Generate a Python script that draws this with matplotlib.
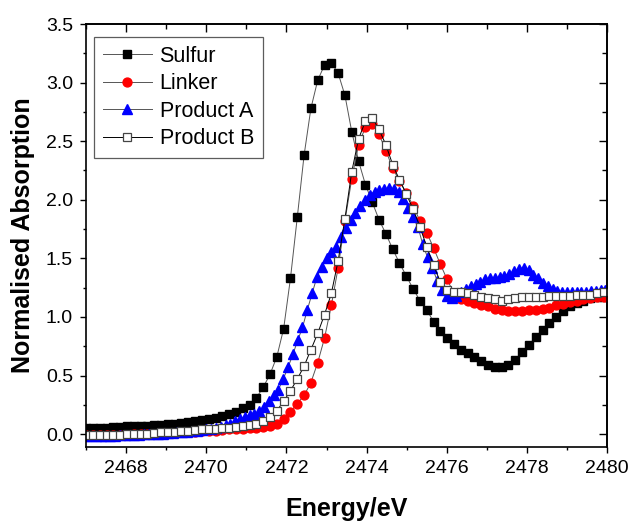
import matplotlib.pyplot as plt
from matplotlib.ticker import MultipleLocator

plt.rcParams['font.family'] = ['Liberation Sans', 'DejaVu Sans']

# energy grid shared by Sulfur, Linker and Product B (eV)
energy = [2467.00, 2467.17, 2467.34, 2467.51, 2467.68, 2467.85, 2468.02, 2468.19,
          2468.36, 2468.53, 2468.70, 2468.87, 2469.04, 2469.21, 2469.38, 2469.55,
          2469.72, 2469.89, 2470.06, 2470.23, 2470.40, 2470.57, 2470.74, 2470.91,
          2471.08, 2471.25, 2471.42, 2471.59, 2471.76, 2471.93, 2472.10, 2472.27,
          2472.44, 2472.61, 2472.78, 2472.95, 2473.12, 2473.29, 2473.46, 2473.63,
          2473.80, 2473.97, 2474.14, 2474.31, 2474.48, 2474.65, 2474.82, 2474.99,
          2475.16, 2475.33, 2475.50, 2475.67, 2475.84, 2476.01, 2476.18, 2476.35,
          2476.52, 2476.69, 2476.86, 2477.03, 2477.20, 2477.37, 2477.54, 2477.71,
          2477.88, 2478.05, 2478.22, 2478.39, 2478.56, 2478.73, 2478.90, 2479.07,
          2479.24, 2479.41, 2479.58, 2479.75, 2479.92]

sulfur = [0.05, 0.05, 0.055, 0.055, 0.06, 0.06, 0.065, 0.065,
          0.07, 0.07, 0.075, 0.08, 0.085, 0.09, 0.095, 0.10,
          0.11, 0.12, 0.13, 0.14, 0.155, 0.17, 0.19, 0.22,
          0.25, 0.31, 0.40, 0.51, 0.66, 0.90, 1.33, 1.85,
          2.38, 2.78, 3.02, 3.15, 3.17, 3.08, 2.89, 2.58,
          2.33, 2.13, 1.98, 1.83, 1.71, 1.58, 1.46, 1.35,
          1.24, 1.14, 1.06, 0.96, 0.88, 0.82, 0.77, 0.72,
          0.69, 0.66, 0.62, 0.59, 0.57, 0.57, 0.59, 0.63,
          0.70, 0.76, 0.83, 0.89, 0.95, 1.00, 1.05, 1.09,
          1.12, 1.14, 1.16, 1.17, 1.17]

linker = [-0.01, -0.01, -0.01, -0.01, -0.01, -0.005, -0.005, 0.0,
          0.0, 0.0, 0.005, 0.005, 0.01, 0.01, 0.015, 0.02,
          0.02, 0.025, 0.03, 0.03, 0.035, 0.04, 0.04, 0.045,
          0.05, 0.055, 0.06, 0.07, 0.09, 0.13, 0.19, 0.26,
          0.33, 0.44, 0.61, 0.82, 1.10, 1.42, 1.82, 2.18,
          2.47, 2.62, 2.65, 2.56, 2.42, 2.27, 2.16, 2.06,
          1.95, 1.82, 1.72, 1.59, 1.45, 1.32, 1.20, 1.15,
          1.14, 1.12, 1.10, 1.09, 1.07, 1.06, 1.05, 1.05,
          1.05, 1.06, 1.06, 1.07, 1.08, 1.10, 1.11, 1.13,
          1.14, 1.15, 1.16, 1.17, 1.17]

product_b = [-0.01, -0.01, -0.01, -0.01, -0.005, -0.005, 0.0, 0.0,
             0.005, 0.005, 0.01, 0.015, 0.02, 0.02, 0.025, 0.03,
             0.035, 0.04, 0.04, 0.045, 0.05, 0.055, 0.06, 0.065,
             0.075, 0.09, 0.11, 0.145, 0.20, 0.28, 0.37, 0.47,
             0.58, 0.72, 0.86, 1.02, 1.20, 1.48, 1.84, 2.24,
             2.52, 2.67, 2.70, 2.60, 2.47, 2.30, 2.17, 2.05,
             1.92, 1.77, 1.60, 1.44, 1.30, 1.23, 1.21, 1.21,
             1.20, 1.19, 1.17, 1.16, 1.15, 1.14, 1.15, 1.16,
             1.17, 1.17, 1.17, 1.17, 1.18, 1.18, 1.18, 1.18,
             1.19, 1.19, 1.19, 1.20, 1.21]

# Product A was measured on a finer grid
energy_a = [2467.00, 2467.12, 2467.24, 2467.36, 2467.48, 2467.60, 2467.72, 2467.84,
            2467.96, 2468.08, 2468.20, 2468.32, 2468.44, 2468.56, 2468.68, 2468.80,
            2468.92, 2469.04, 2469.16, 2469.28, 2469.40, 2469.52, 2469.64, 2469.76,
            2469.88, 2470.00, 2470.12, 2470.24, 2470.36, 2470.48, 2470.60, 2470.72,
            2470.84, 2470.96, 2471.08, 2471.20, 2471.32, 2471.44, 2471.56, 2471.68,
            2471.80, 2471.92, 2472.04, 2472.16, 2472.28, 2472.40, 2472.52, 2472.64,
            2472.76, 2472.88, 2473.00, 2473.12, 2473.24, 2473.36, 2473.48, 2473.60,
            2473.72, 2473.84, 2473.96, 2474.08, 2474.20, 2474.32, 2474.44, 2474.56,
            2474.68, 2474.80, 2474.92, 2475.04, 2475.16, 2475.28, 2475.40, 2475.52,
            2475.64, 2475.76, 2475.88, 2476.00, 2476.12, 2476.24, 2476.36, 2476.48,
            2476.60, 2476.72, 2476.84, 2476.96, 2477.08, 2477.20, 2477.32, 2477.44,
            2477.56, 2477.68, 2477.80, 2477.92, 2478.04, 2478.16, 2478.28, 2478.40,
            2478.52, 2478.64, 2478.76, 2478.88, 2479.00, 2479.12, 2479.24, 2479.36,
            2479.48, 2479.60, 2479.72, 2479.84, 2479.96]

product_a = [-0.02, -0.02, -0.02, -0.02, -0.015, -0.015, -0.015, -0.01,
             -0.01, -0.01, -0.005, -0.005, 0.0, 0.0, 0.0, 0.005,
             0.005, 0.01, 0.01, 0.015, 0.02, 0.02, 0.025, 0.03,
             0.035, 0.04, 0.045, 0.05, 0.06, 0.075, 0.09, 0.11,
             0.13, 0.145, 0.16, 0.17, 0.195, 0.235, 0.28, 0.33,
             0.38, 0.47, 0.57, 0.68, 0.80, 0.91, 1.06, 1.20,
             1.34, 1.43, 1.50, 1.55, 1.60, 1.68, 1.76, 1.83,
             1.89, 1.95, 2.00, 2.04, 2.07, 2.08, 2.09, 2.10,
             2.09, 2.07, 2.01, 1.93, 1.85, 1.77, 1.62, 1.51,
             1.42, 1.31, 1.23, 1.18, 1.16, 1.18, 1.21, 1.24,
             1.26, 1.28, 1.30, 1.32, 1.33, 1.33, 1.34, 1.35,
             1.37, 1.39, 1.41, 1.42, 1.40, 1.36, 1.33, 1.29,
             1.26, 1.24, 1.22, 1.21, 1.21, 1.21, 1.21, 1.21,
             1.21, 1.22, 1.22, 1.23, 1.23]

fig = plt.figure(figsize=(6.33, 5.22), dpi=100)
ax = fig.add_axes([0.136, 0.1437, 0.823, 0.8103])

line_col = '#555555'
ax.plot(energy, sulfur, color=line_col, lw=0.7, marker='s', ms=5.6,
        mfc='black', mec='black', label='Sulfur')
ax.plot(energy, linker, color=line_col, lw=0.7, marker='o', ms=6.4,
        mfc='red', mec='red', label='Linker')
ax.plot(energy_a, product_a, color=line_col, lw=0.7, marker='^', ms=6.6,
        mfc='blue', mec='blue', label='Product A')
ax.plot(energy, product_b, color='black', lw=0.7, marker='s', ms=5.6,
        mfc='white', mec='#444444', mew=0.9, label='Product B')

ax.set_xlim(2467, 2480)
ax.set_ylim(-0.11, 3.5)
ax.xaxis.set_major_locator(MultipleLocator(2))
ax.xaxis.set_minor_locator(MultipleLocator(1))
ax.yaxis.set_major_locator(MultipleLocator(0.5))
ax.yaxis.set_minor_locator(MultipleLocator(0.25))
ax.yaxis.set_major_formatter(plt.FormatStrFormatter('%.1f'))

for s in ax.spines.values():
    s.set_linewidth(1.2)

ax.tick_params(which='both', direction='out', labelsize=14, width=1.0, pad=5)
ax.tick_params(which='major', length=4.5)
ax.tick_params(which='minor', length=2.5)

# mirrored ticks on top and right, pointing inward
top = ax.secondary_xaxis('top')
top.xaxis.set_major_locator(MultipleLocator(2))
top.xaxis.set_minor_locator(MultipleLocator(1))
top.tick_params(which='both', direction='in', labeltop=False, width=1.0)
top.tick_params(which='major', length=6)
top.tick_params(which='minor', length=3.5)
top.spines['top'].set_linewidth(1.2)
right = ax.secondary_yaxis('right')
right.yaxis.set_major_locator(MultipleLocator(0.5))
right.yaxis.set_minor_locator(MultipleLocator(0.25))
right.tick_params(which='both', direction='in', labelright=False, width=1.0)
right.tick_params(which='major', length=6)
right.tick_params(which='minor', length=3.5)
right.spines['right'].set_linewidth(1.2)

ax.set_xlabel('Energy/eV', fontsize=18, fontweight='bold', labelpad=14)
ax.set_ylabel('Normalised Absorption', fontsize=18, fontweight='bold', labelpad=8)

leg = ax.legend(loc='upper left', bbox_to_anchor=(0.015, 0.969), fontsize=15.5,
                frameon=True, fancybox=False, edgecolor='#333333',
                handlelength=2.3, handletextpad=0.35, labelspacing=0.3,
                borderpad=0.4, borderaxespad=0)
leg.get_frame().set_linewidth(0.9)

fig.savefig('out.png', dpi=100)
